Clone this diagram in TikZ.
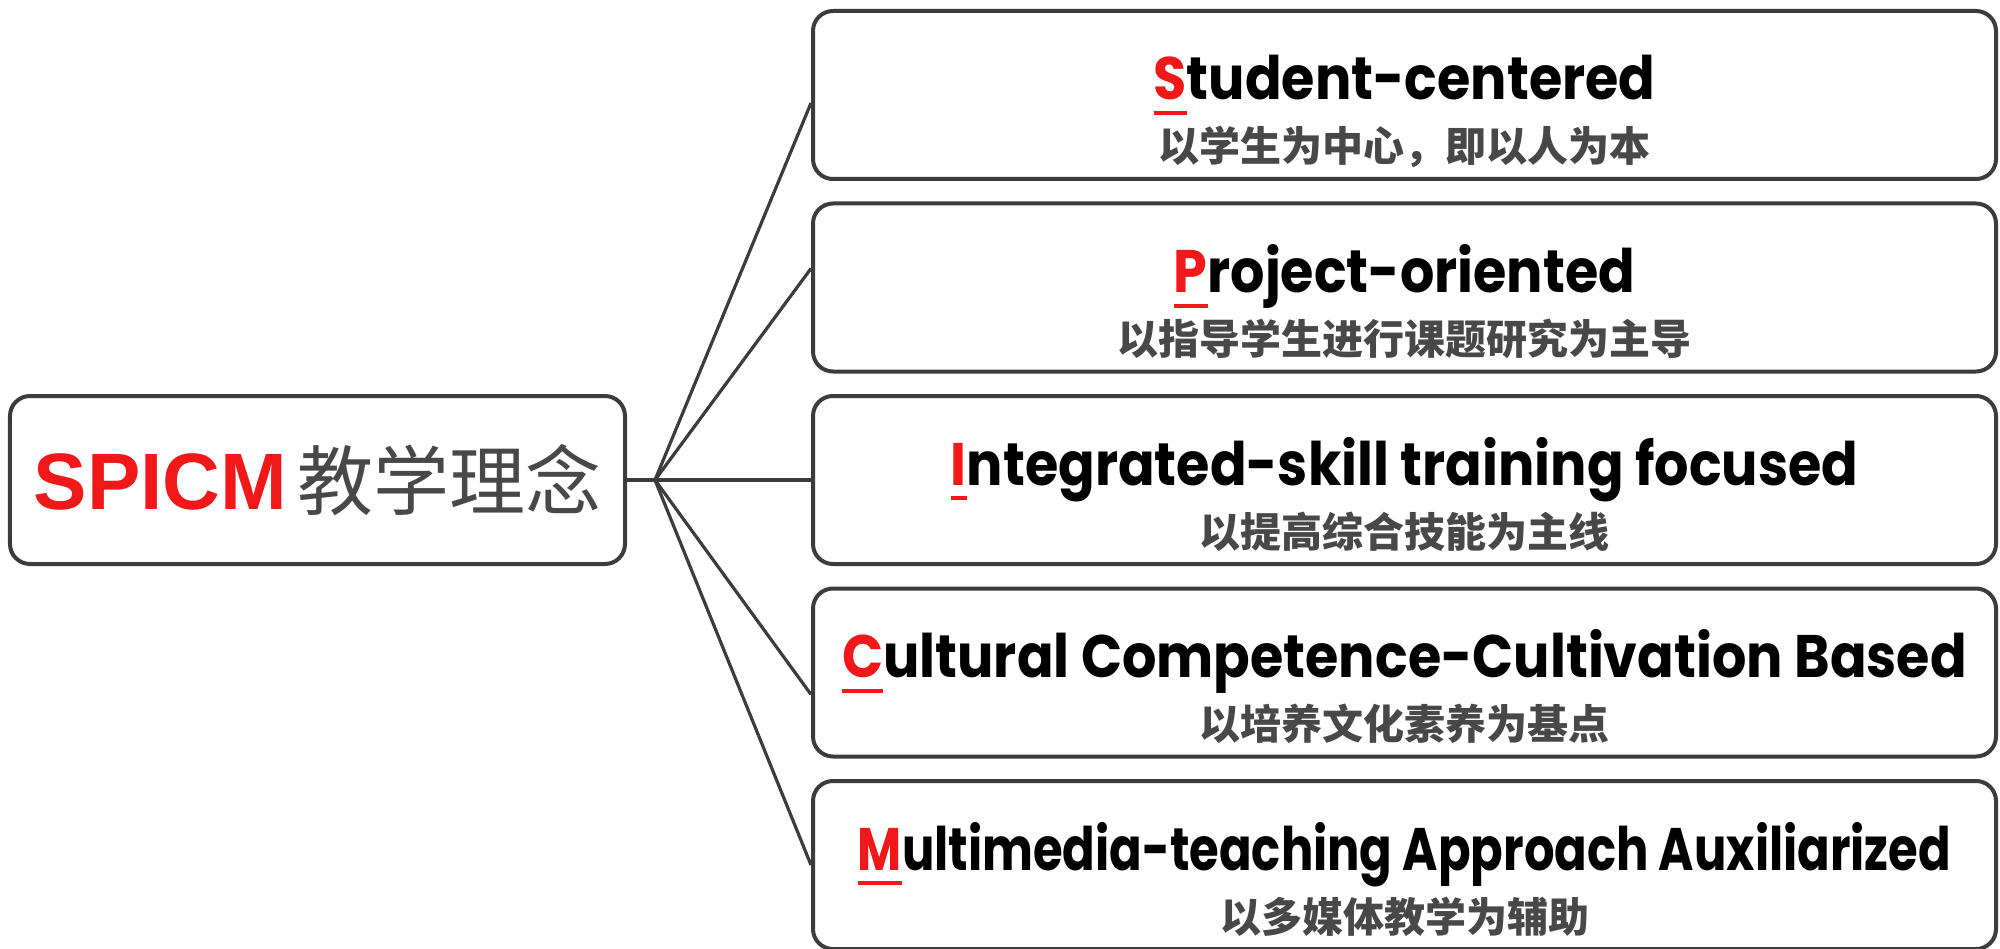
\documentclass[tikz,border=0pt]{standalone}
\usepackage{fontspec}
\setmainfont{Liberation Sans}
\newfontfamily\titlefont{Poppins}[FakeStretch=0.9]
\newfontfamily\cjkfont{Noto Sans CJK SC}
\definecolor{spred}{RGB}{240,24,24}
\definecolor{boxgray}{RGB}{60,60,60}
\definecolor{subgray}{RGB}{72,72,72}

% red initial with a short bar below it
\newcommand{\firstletter}[1]{{\color{spred}\setbox0\hbox{#1}\rlap{\rule[-7.5pt]{\wd0}{1.8pt}}\box0}}
\newcommand{\spicmitem}[4][1]{\scalebox{#1}[1]{\titlefont\bfseries\firstletter{#2}#3}\\{\cjkfont\bfseries\color{subgray}\fontsize{20.5}{31}\selectfont #4}}

\begin{document}
\begin{tikzpicture}[grow'=east, level distance=543.5pt, sibling distance=96.25pt,
  box/.style={draw=boxgray, line width=2pt, rounded corners=10pt, fill=white},
  rootbox/.style={box, minimum width=307.5pt, minimum height=84pt, inner sep=0pt, font=\fontsize{40}{48}\selectfont},
  itembox/.style={box, minimum width=591.5pt, minimum height=84pt, inner sep=0pt,
    text height=75.5pt, text depth=8.5pt, align=center, font=\fontsize{30}{31}\selectfont},
  fan/.style={edge from parent path={(\tikzparentnode.east) -- ++(14pt,0) -- ([yshift=#1]\tikzchildnode.west)}},
  edge from parent/.style={draw=boxgray, line width=1.6pt}]
\useasboundingbox (-158.75pt,240pt) rectangle (841.25pt,-234pt);
\node [rootbox] (root) {{\bfseries\color{spred}SPICM}\hspace{5pt}{\cjkfont\color{subgray}\fontsize{38}{46}\selectfont 教学理念}}
  child [fan=-4pt] {
    node [itembox] (student) {\spicmitem{S}{tudent-centered}{以学生为中心，即以人为本}}
  }
  child [fan=9.5pt] {
    node [itembox] (project) {\spicmitem{P}{roject-oriented}{以指导学生进行课题研究为主导}}
  }
  child [fan=0pt] {
    node [itembox] (skill) {\spicmitem{I}{ntegrated-skill training focused}{以提高综合技能为主线}}
  }
  child [fan=-11pt] {
    node [itembox] (culture) {\spicmitem{C}{ultural Competence-Cultivation Based}{以培养文化素养为基点}}
  }
  child [fan=0pt] {
    node [itembox] (media) {\spicmitem[0.89]{M}{ultimedia-teaching Approach Auxiliarized}{以多媒体教学为辅助}}
  };
\end{tikzpicture}
\end{document}
